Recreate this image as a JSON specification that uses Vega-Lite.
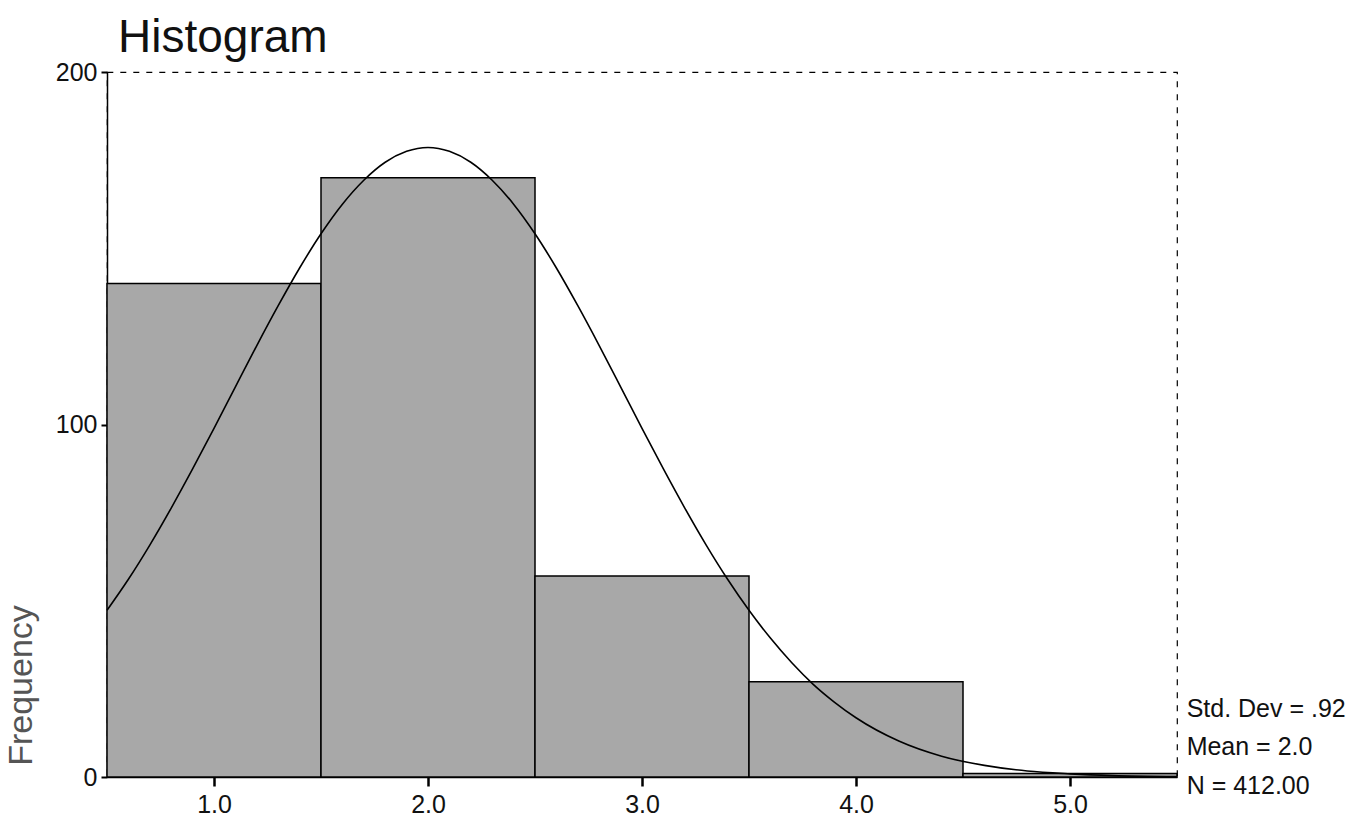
{
  "$schema": "https://vega.github.io/schema/vega-lite/v6.json",
  "width": 1070,
  "height": 705,
  "autosize": {"type": "none"},
  "padding": {"left": 107, "top": 72, "right": 179, "bottom": 63},
  "background": "white",
  "title": {
    "text": "Histogram",
    "anchor": "start",
    "frame": "group",
    "font": "Liberation Sans",
    "fontSize": 46,
    "fontWeight": "normal",
    "color": "#111111",
    "baseline": "alphabetic",
    "offset": -38,
    "dx": 11
  },
  "datasets": {
    "bars": [
      {"bin_start": 0.5, "bin_end": 1.5, "count": 140},
      {"bin_start": 1.5, "bin_end": 2.5, "count": 170},
      {"bin_start": 2.5, "bin_end": 3.5, "count": 57},
      {"bin_start": 3.5, "bin_end": 4.5, "count": 27},
      {"bin_start": 4.5, "bin_end": 5.5, "count": 1}
    ],
    "curve": [
      {"x": 0.5, "y": 47.3}, {"x": 0.6, "y": 56.1}, {"x": 0.7, "y": 65.8},
      {"x": 0.8, "y": 76.3}, {"x": 0.9, "y": 87.4}, {"x": 1.0, "y": 98.9},
      {"x": 1.1, "y": 110.7}, {"x": 1.2, "y": 122.4}, {"x": 1.3, "y": 133.7},
      {"x": 1.4, "y": 144.4}, {"x": 1.5, "y": 154.1}, {"x": 1.6, "y": 162.5},
      {"x": 1.7, "y": 169.3}, {"x": 1.8, "y": 174.4}, {"x": 1.9, "y": 177.5},
      {"x": 2.0, "y": 178.6}, {"x": 2.1, "y": 177.5}, {"x": 2.2, "y": 174.4},
      {"x": 2.3, "y": 169.3}, {"x": 2.4, "y": 162.5}, {"x": 2.5, "y": 154.1},
      {"x": 2.6, "y": 144.4}, {"x": 2.7, "y": 133.7}, {"x": 2.8, "y": 122.4},
      {"x": 2.9, "y": 110.7}, {"x": 3.0, "y": 98.9}, {"x": 3.1, "y": 87.4},
      {"x": 3.2, "y": 76.3}, {"x": 3.3, "y": 65.8}, {"x": 3.4, "y": 56.1},
      {"x": 3.5, "y": 47.3}, {"x": 3.6, "y": 39.4}, {"x": 3.7, "y": 32.4},
      {"x": 3.8, "y": 26.3}, {"x": 3.9, "y": 21.2}, {"x": 4.0, "y": 16.8},
      {"x": 4.2, "y": 10.2}, {"x": 4.4, "y": 5.9}, {"x": 4.6, "y": 3.3},
      {"x": 4.8, "y": 1.7}, {"x": 5.0, "y": 0.9}, {"x": 5.2, "y": 0.4},
      {"x": 5.5, "y": 0.1}
    ],
    "stats": [
      {"label": "Std. Dev = .92", "x": 5.545, "y": 17},
      {"label": "Mean = 2.0", "x": 5.545, "y": 6.2},
      {"label": "N = 412.00", "x": 5.545, "y": -4.8}
    ]
  },
  "layer": [
    {
      "data": {"name": "bars"},
      "mark": {"type": "rect", "fill": "#a8a8a8", "stroke": "#000000", "strokeWidth": 1.5},
      "encoding": {
        "x": {
          "field": "bin_start",
          "type": "quantitative",
          "scale": {"domain": [0.5, 5.5], "nice": false, "zero": false},
          "axis": {
            "values": [1, 2, 3, 4, 5],
            "format": ".1f",
            "title": null,
            "grid": false,
            "labelFont": "Liberation Sans",
            "labelFontSize": 25,
            "labelColor": "#111111",
            "labelPadding": 6,
            "tickSize": 9,
            "tickWidth": 2.5,
            "tickColor": "#000000",
            "domainColor": "#000000",
            "domainWidth": 1.5
          }
        },
        "x2": {"field": "bin_end"},
        "y": {
          "field": "count",
          "type": "quantitative",
          "scale": {"domain": [0, 200], "nice": false},
          "axis": {
            "values": [0, 100, 200],
            "title": "Frequency",
            "grid": false,
            "labelFont": "Liberation Sans",
            "labelFontSize": 25,
            "labelColor": "#111111",
            "labelPadding": 4,
            "tickSize": 6,
            "tickWidth": 2,
            "tickColor": "#000000",
            "domainColor": "#000000",
            "domainWidth": 1.5,
            "titleFont": "Liberation Sans",
            "titleFontSize": 34,
            "titleFontWeight": "normal",
            "titleColor": "#555555",
            "titleAngle": 270,
            "titleX": -76,
            "titleY": 613,
            "titleAlign": "center",
            "titleBaseline": "alphabetic"
          }
        },
        "y2": {"datum": 0}
      }
    },
    {
      "data": {"name": "curve"},
      "mark": {"type": "line", "color": "#000000", "strokeWidth": 1.6, "interpolate": "monotone"},
      "encoding": {
        "x": {"field": "x", "type": "quantitative"},
        "y": {"field": "y", "type": "quantitative"}
      }
    },
    {
      "data": {"name": "stats"},
      "mark": {
        "type": "text",
        "align": "left",
        "baseline": "alphabetic",
        "font": "Liberation Sans",
        "fontSize": 25,
        "color": "#111111"
      },
      "encoding": {
        "x": {"field": "x", "type": "quantitative"},
        "y": {"field": "y", "type": "quantitative"},
        "text": {"field": "label"}
      }
    }
  ],
  "config": {
    "view": {"stroke": "#000000", "strokeDash": [6, 7], "strokeWidth": 1.2}
  }
}
